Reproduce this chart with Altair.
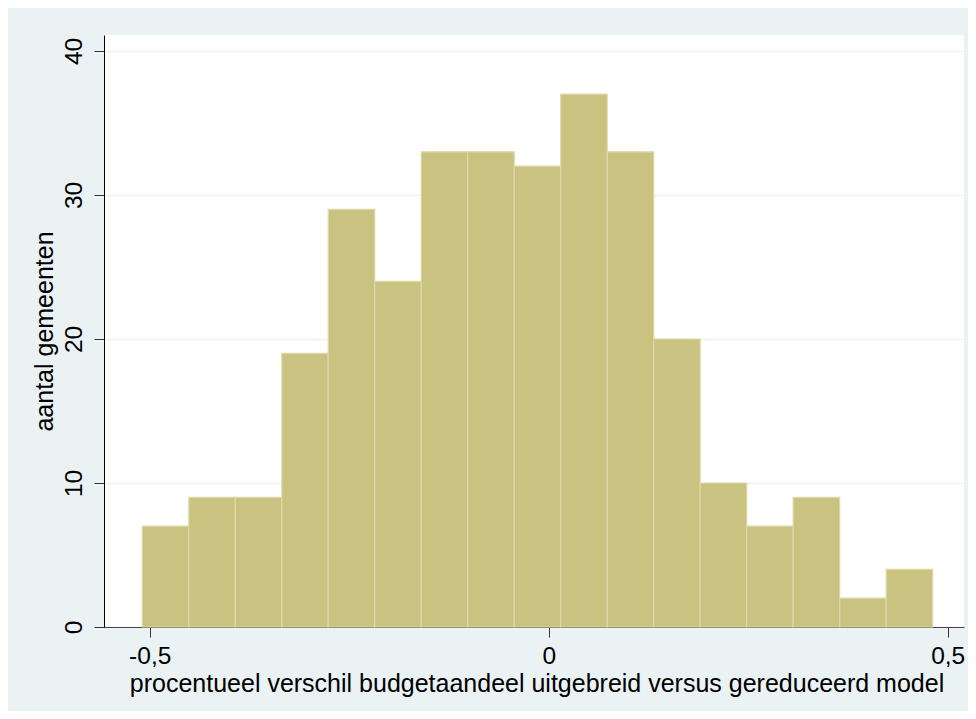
import altair as alt
import pandas as pd

# Histogram data
bin_edges = [-0.5093, -0.4510, -0.3928, -0.3345, -0.2763, -0.2180, -0.1597,
             -0.1015, -0.0432, 0.0150, 0.0733, 0.1316, 0.1898, 0.2481,
             0.3063, 0.3646, 0.4229, 0.4811]
counts = [7, 9, 9, 19, 29, 24, 33, 33, 32, 37, 33, 20, 10, 7, 9, 2, 4]

x_ticks = [-0.5, 0, 0.5]
x_tick_labels = ["-0,5", "0", "0,5"]
y_ticks = [0, 10, 20, 30, 40]

x_title = "procentueel verschil budgetaandeel uitgebreid versus gereduceerd model"
y_title = "aantal gemeenten"

df = pd.DataFrame({
    "start": bin_edges[:-1],
    "end": bin_edges[1:],
    "count": counts,
})

label_expr = ""
for v, lab in zip(x_ticks, x_tick_labels):
    label_expr += f"abs(datum.value - ({v})) < 1e-6 ? '{lab}' : "
label_expr += "''"

FONT = "Liberation Sans"
LFS = 24.5
TFS = 25

chart = alt.Chart(df).mark_rect(
    fill="#C9C280",
    stroke="#DDD9A6",
    strokeWidth=1.2,
).encode(
    x=alt.X(
        "start:Q",
        scale=alt.Scale(domain=[-0.5573, 0.5204], nice=False, zero=False),
        axis=alt.Axis(
            values=x_ticks,
            labelExpr=label_expr,
            grid=False,
            tickSize=10,
            tickColor="#333333",
            domainColor="#444444",
            domainWidth=1.2,
            labelFont=FONT,
            labelFontSize=LFS,
            labelColor="black",
            labelBaseline="alphabetic",
            labelPadding=26,
            labelFlush=False,
            labelOverlap=False,
            titleFont=FONT,
            titleFontSize=TFS,
            titleFontWeight="normal",
            titleColor="black",
            titleBaseline="alphabetic",
            titleX=432.5,
            titleY=64,
        ),
        title=x_title,
    ),
    x2="end:Q",
    y=alt.Y(
        "count:Q",
        scale=alt.Scale(domain=[0, 41.11], nice=False),
        axis=alt.Axis(
            values=y_ticks,
            grid=True,
            gridColor="#EAF2F3",
            gridWidth=1.6,
            tickSize=10,
            tickColor="#333333",
            domainColor="black",
            domainWidth=1,
            labelFont=FONT,
            labelFontSize=LFS,
            labelColor="black",
            labelAngle=270,
            labelAlign="center",
            labelBaseline="alphabetic",
            labelPadding=13,
            labelOverlap=False,
            titleFont=FONT,
            titleFontSize=TFS,
            titleFontWeight="normal",
            titleColor="black",
            titleAngle=270,
            titleAlign="center",
            titleBaseline="alphabetic",
            titleX=-52,
            titleY=296,
        ),
        title=y_title,
    ),
    y2=alt.datum(0),
).properties(
    width=860,
    height=592,
    autosize=alt.AutoSizeParams(type="none"),
    padding={"left": 96, "top": 27, "right": 4, "bottom": 84},
    background="#EAF2F3",
).configure_view(
    fill="white",
    strokeWidth=0,
)

chart.save("out.html", embed_options={"renderer": "svg", "actions": False})
